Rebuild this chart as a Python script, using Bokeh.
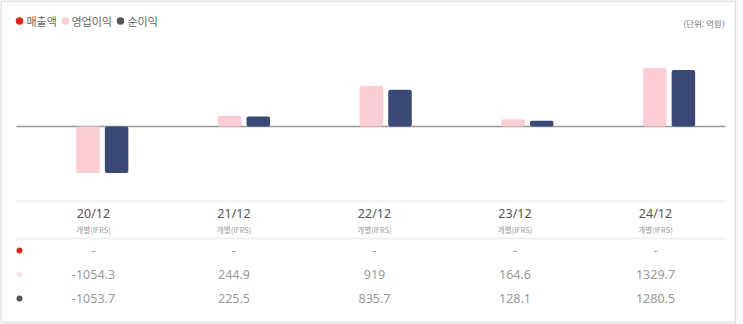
from bokeh.plotting import figure
from bokeh.models import Range1d, ColumnDataSource
from bokeh.core.properties import value
from bokeh.embed import file_html
from bokeh.resources import INLINE

# ---- data ----
periods = ["20/12", "21/12", "22/12", "23/12", "24/12"]
basis = ["개별(IFRS)"] * 5
sales = [None, None, None, None, None]            # 매출액
op_income = [-1054.3, 244.9, 919.0, 164.6, 1329.7]  # 영업이익
net_income = [-1053.7, 225.5, 835.7, 128.1, 1280.5]  # 순이익
series_names = ["매출액", "영업이익", "순이익"]
unit_label = "(단위: 억원)"

FONT = value("Noto Sans CJK KR")
NUM_FONT = value("Noto Sans")
RED = "#e3261e"
PINK = "#fccdd2"
NAVY = "#3a4875"
DOT_DARK = "#545659"

W, H = 743, 324
ZERO_PX = 126
UNITS_PER_PX = 22.7

p = figure(width=W, height=H, output_backend="svg", toolbar_location=None,
           x_axis_type=None, y_axis_type=None,
           x_range=Range1d(0, W),
           y_range=Range1d(-(H - ZERO_PX) * UNITS_PER_PX, ZERO_PX * UNITS_PER_PX),
           min_border=0, min_border_left=0, min_border_right=0,
           min_border_top=0, min_border_bottom=0,
           background_fill_color="#f9f9f9", border_fill_color="#f9f9f9",
           outline_line_color=None)
p.grid.visible = False
p.extra_y_ranges = {"px": Range1d(H, 0)}

# outer box
p.quad(left=[0.5], right=[735], top=[0.5], bottom=[322], y_range_name="px",
       fill_color="white", line_color="#dedede", line_width=1.5)

# zero line and table separators
p.segment(x0=[16], x1=[725], y0=[ZERO_PX], y1=[ZERO_PX], y_range_name="px",
          line_color="#9a9a9a", line_width=1.5)
p.segment(x0=[16, 16], x1=[725, 725], y0=[201, 238], y1=[201, 238], y_range_name="px",
          line_color="#f0f0f0", line_width=2)

# bars
n = len(periods)
centers = [101.8 + i * 141.7 for i in range(n)]
bw = 23.5
src = ColumnDataSource(dict(
    xp=[c - 14.3 for c in centers],
    xn=[c + 14.3 for c in centers],
    op=op_income, ni=net_income))
p.vbar(x="xp", top="op", bottom=0, width=bw, source=src,
       fill_color=PINK, line_color=None, border_radius=2)
p.vbar(x="xn", top="ni", bottom=0, width=bw, source=src,
       fill_color=NAVY, line_color=None, border_radius=2)

# legend
leg_dots_x = [19, 65, 120]
leg_text_x = [26, 71, 127]
p.scatter(x=leg_dots_x, y=[20.5] * 3, y_range_name="px", size=7.5,
          fill_color=[RED, PINK, DOT_DARK], line_color=None)
p.text(x=leg_text_x, y=[20.5] * 3, text=series_names, y_range_name="px",
       text_font=FONT, text_font_size="11px", text_color="#666666",
       text_baseline="middle", text_align="left")
p.text(x=[724], y=[22], text=[unit_label], y_range_name="px",
       text_font=FONT, text_font_size="8.5px", text_color="#777777",
       text_baseline="middle", text_align="right")

# table
cols = [93 + i * 140.5 for i in range(n)]
p.text(x=cols, y=[213] * n, text=periods, y_range_name="px",
       text_font=NUM_FONT, text_font_size="12.5px", text_color="#555555",
       text_baseline="middle", text_align="center")
p.text(x=cols, y=[228.5] * n, text=basis, y_range_name="px",
       text_font=FONT, text_font_size="7.5px", text_color="#999999",
       text_baseline="middle", text_align="center")

def fmt(v):
    return "-" if v is None else f"{v:g}"

row_y = [250, 274, 298]
p.scatter(x=[19] * 3, y=row_y, y_range_name="px", size=6,
          fill_color=[RED, "#fde3e5", DOT_DARK], line_color=None)
for ry, vals in zip(row_y, [sales, op_income, net_income]):
    p.text(x=cols, y=[ry] * n, text=[fmt(v) for v in vals], y_range_name="px",
           text_font=NUM_FONT, text_font_size="12.5px", text_color="#999999",
           text_baseline="middle", text_align="center")

open("out.html", "w").write(file_html(p, INLINE))
